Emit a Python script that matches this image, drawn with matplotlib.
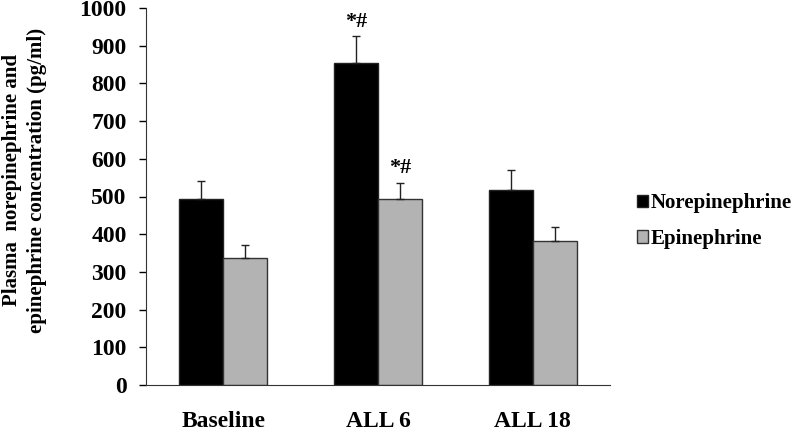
import numpy as np
import matplotlib.pyplot as plt
from matplotlib.patches import Patch

# values
groups = ['Baseline', 'ALL 6', 'ALL 18']
norepi = [494, 854, 517]
norepi_err = [46, 71, 53]
epi = [337, 494, 382]
epi_err = [34, 43, 38]
sig_marks = ['', '*#', '']  # same marks for both series

plt.rcParams['font.family'] = ['Liberation Serif', 'DejaVu Serif']
plt.rcParams['font.weight'] = 'bold'

fig = plt.figure(figsize=(7.97, 4.32), dpi=100)
ax = fig.add_axes([146 / 797, 1 - 385 / 432, (610 - 146) / 797, (385 - 8) / 432])

x = np.arange(len(groups)) + 0.5
w = 0.285
ax.bar(x - w / 2, norepi, w, color='black', edgecolor='#222222', linewidth=1,
       yerr=[np.zeros(3), norepi_err], error_kw=dict(ecolor='#222222', elinewidth=1, capsize=3, capthick=1))
ax.bar(x + w / 2, epi, w, color='#b3b3b3', edgecolor='#333333', linewidth=1,
       yerr=[np.zeros(3), epi_err], error_kw=dict(ecolor='#222222', elinewidth=1, capsize=3, capthick=1))

for i, m in enumerate(sig_marks):
    if m:
        ax.text(x[i] - w / 2, norepi[i] + norepi_err[i] + 12, m, ha='center', va='bottom',
                fontsize=16, fontweight='bold')
        ax.text(x[i] + w / 2, epi[i] + epi_err[i] + 12, m, ha='center', va='bottom',
                fontsize=16, fontweight='bold')

ax.set_xlim(0, 3)
ax.set_ylim(0, 1000)
ax.set_yticks(np.arange(0, 1001, 100))
ax.set_xticks(x)
ax.set_xticklabels(groups, fontsize=17, fontweight='bold')
ax.tick_params(axis='x', length=0, pad=19)
ax.tick_params(axis='y', length=5, width=1, labelsize=17, pad=9, direction='out')
for lbl in ax.get_yticklabels():
    lbl.set_fontweight('bold')
ax.spines['top'].set_visible(False)
ax.spines['right'].set_visible(False)
ax.spines['left'].set_color('#333333')
ax.spines['bottom'].set_color('#333333')

fig.text(0.031, 0.583, 'Plasma  norepinephrine and\nepinephrine concentration (pg/ml)',
         rotation=90, ha='center', va='center', fontsize=15, fontweight='bold',
         linespacing=1.35)

handles = [Patch(facecolor='black', edgecolor='#222222', label='Norepinephrine'),
           Patch(facecolor='#b3b3b3', edgecolor='#333333', label='Epinephrine')]
fig.legend(handles=handles, loc='center left', bbox_to_anchor=(637 / 797, 1 - 221 / 432),
           frameon=False, borderpad=0, borderaxespad=0,
           handlelength=0.55, handleheight=0.55, handletextpad=0.1,
           labelspacing=0.75, prop={'size': 15, 'weight': 'bold'})

fig.savefig('out.png', dpi=100)
